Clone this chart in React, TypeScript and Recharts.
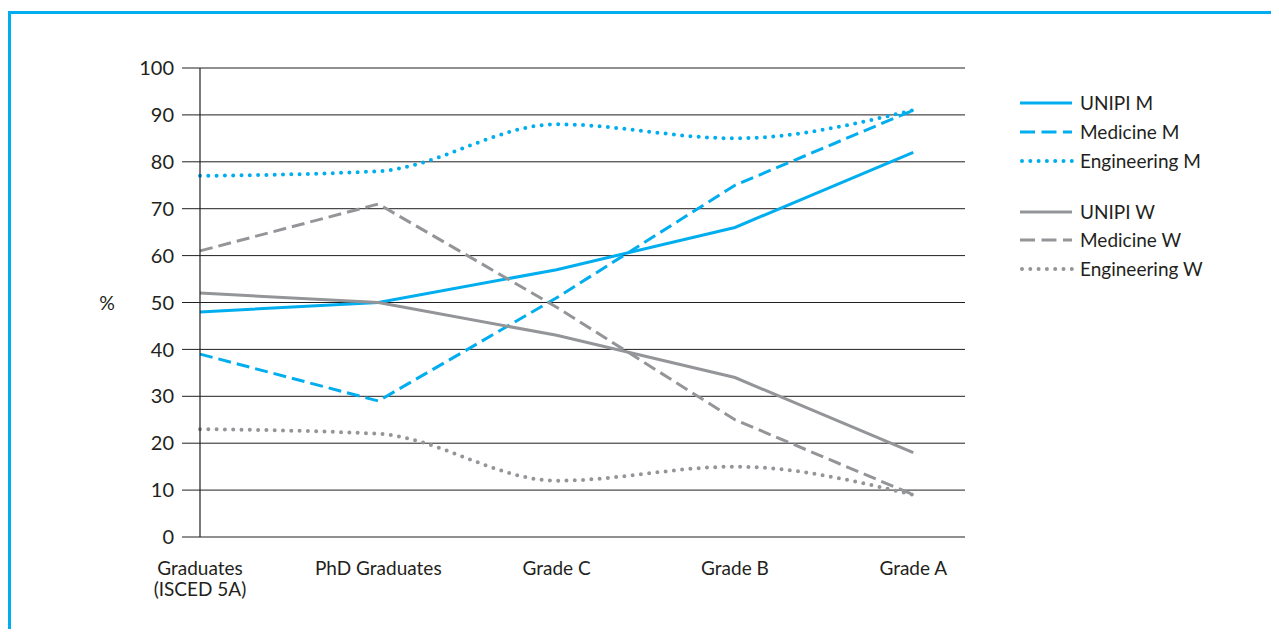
import { LineChart, Line, XAxis, YAxis, CartesianGrid, Label } from 'recharts'

const categories = ['Graduates\n(ISCED 5A)', 'PhD Graduates', 'Grade C', 'Grade B', 'Grade A']

const unipiM = [48, 50, 57, 66, 82]
const medicineM = [39, 29, 51, 75, 91]
const engineeringM = [77, 78, 88, 85, 91]
const unipiW = [52, 50, 43, 34, 18]
const medicineW = [61, 71, 49, 25, 9]
const engineeringW = [23, 22, 12, 15, 9]

const yTicks = [0, 10, 20, 30, 40, 50, 60, 70, 80, 90, 100]

const BLUE = '#00aeef'
const GRAY = '#939598'
const INK = '#231f20'
const FONT = 'Lato, "Noto Sans", sans-serif'

const data = categories.map((c, i) => ({
    idx: i,
    unipiM: unipiM[i],
    medicineM: medicineM[i],
    engineeringM: engineeringM[i],
    unipiW: unipiW[i],
    medicineW: medicineW[i],
    engineeringW: engineeringW[i],
}))

const series = [
    { key: 'unipiM', name: 'UNIPI M', color: BLUE, style: 'solid' },
    { key: 'medicineM', name: 'Medicine M', color: BLUE, style: 'dash' },
    { key: 'engineeringM', name: 'Engineering M', color: BLUE, style: 'dot' },
    { key: 'unipiW', name: 'UNIPI W', color: GRAY, style: 'solid' },
    { key: 'medicineW', name: 'Medicine W', color: GRAY, style: 'dash' },
    { key: 'engineeringW', name: 'Engineering W', color: GRAY, style: 'dot' },
]

const legendRows = [13, 42, 71, 122, 150, 179]

function dashFor(style: string) {
    if (style === 'dash') return '13 6'
    if (style === 'dot') return '0 8.3'
    return undefined
}

function XTick({ x, y, payload }: any) {
    const lines = categories[payload.value].split('\n')
    return (
        <text x={x} y={y} textAnchor="middle" fill={INK} fontSize={19} fontFamily={FONT}>
            {lines.map((l, i) => (
                <tspan key={i} x={x} dy={i === 0 ? 38 : 21}>{l}</tspan>
            ))}
        </text>
    )
}

function LegendBox() {
    return (
        <svg width={250} height={200} style={{ display: 'block' }}>
            {series.map((s, i) => (
                <g key={s.key}>
                    <line
                        x1={s.style === 'dot' ? 2 : 0}
                        x2={52}
                        y1={legendRows[i]}
                        y2={legendRows[i]}
                        stroke={s.color}
                        strokeWidth={s.style === 'dot' ? 4 : 3}
                        strokeDasharray={s.style === 'dash' ? '15 6.5' : s.style === 'dot' ? '0 8.3' : undefined}
                        strokeLinecap={s.style === 'dot' ? 'round' : 'butt'}
                    />
                    <text x={60} y={legendRows[i]} dy="0.36em" fill={INK} fontSize={19} fontFamily={FONT}>
                        {s.name}
                    </text>
                </g>
            ))}
        </svg>
    )
}

export default function App() {
    return (
        <div style={{ position: 'relative', width: 1263, height: 621 }}>
            <div
                style={{
                    position: 'absolute',
                    left: 0,
                    top: 3,
                    width: 1271,
                    height: 630,
                    borderTop: `3px solid ${BLUE}`,
                    borderLeft: `3px solid ${BLUE}`,
                    boxSizing: 'border-box',
                }}
            />
            <div style={{ position: 'absolute', left: 0, top: 0 }}>
                <LineChart width={1263} height={620} data={data} margin={{ top: 60, right: 306, bottom: 41, left: 72 }}>
                    <CartesianGrid vertical={false} stroke={INK} strokeWidth={1} />
                    <XAxis
                        dataKey="idx"
                        type="number"
                        domain={[0, 4.29]}
                        ticks={[0, 1, 2, 3, 4]}
                        axisLine={false}
                        tickLine={false}
                        tickSize={0}
                        tickMargin={0}
                        height={50}
                        tick={<XTick />}
                        interval={0}
                    />
                    <YAxis
                        width={120}
                        domain={[0, 100]}
                        ticks={yTicks}
                        interval={0}
                        axisLine={{ stroke: INK, strokeWidth: 1.2 }}
                        tickLine={{ stroke: INK, strokeWidth: 1 }}
                        tickSize={18}
                        tickMargin={8}
                        tick={{ fill: INK, fontSize: 20, fontFamily: FONT }}
                    >
                        <Label
                            content={({ viewBox }: any) => (
                                <text
                                    x={viewBox.x + 27}
                                    y={viewBox.y + viewBox.height / 2}
                                    dy="0.36em"
                                    textAnchor="middle"
                                    fill={INK}
                                    fontSize={19.5}
                                    fontFamily={FONT}
                                >
                                    %
                                </text>
                            )}
                        />
                    </YAxis>
                    {series.map((s) => (
                        <Line
                            key={s.key}
                            dataKey={s.key}
                            name={s.name}
                            type={s.style === 'dot' ? 'monotone' : 'linear'}
                            stroke={s.color}
                            strokeWidth={s.style === 'dot' ? 4 : 3}
                            strokeDasharray={dashFor(s.style)}
                            strokeLinecap={s.style === 'dot' ? 'round' : 'butt'}
                            dot={false}
                            activeDot={false}
                            isAnimationActive={false}
                        />
                    ))}
                </LineChart>
            </div>
            <div style={{ position: 'absolute', left: 1012, top: 82 }}>
                <LegendBox />
            </div>
        </div>
    )
}
